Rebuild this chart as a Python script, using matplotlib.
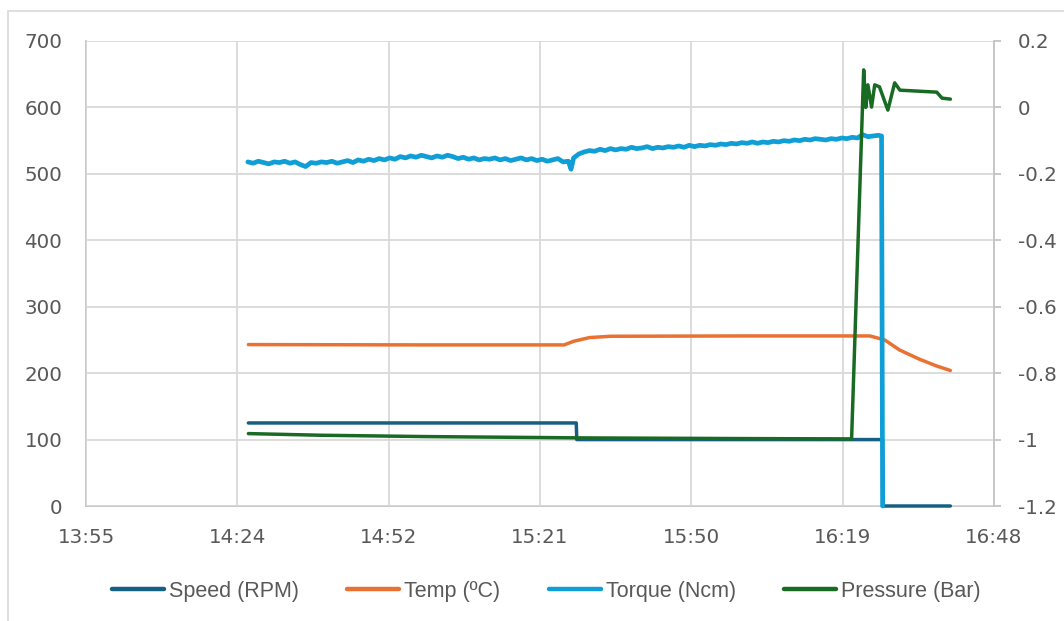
import matplotlib
matplotlib.use("Agg")
import matplotlib.pyplot as plt
from matplotlib.patches import Rectangle

# ---------------- data (time in minutes since midnight) ----------------
x_ticks = [835.2, 864.0, 892.8, 921.6, 950.4, 979.2, 1008.0]
x_tick_labels = ["13:55", "14:24", "14:52", "15:21", "15:50", "16:19", "16:48"]
left_ticks = [0, 100, 200, 300, 400, 500, 600, 700]
right_ticks = [-1.2, -1.0, -0.8, -0.6, -0.4, -0.2, 0.0, 0.2]
right_tick_labels = ["-1.2", "-1", "-0.8", "-0.6", "-0.4", "-0.2", "0", "0.2"]

speed_t = [866.1, 928.5, 928.6, 986.8, 986.9, 999.7]
speed_v = [125, 125, 100, 100, 0, 0]

temp_t = [866.1, 900.0, 926.2, 928.0, 931.0, 935.0, 960.0, 984.4, 987.2, 990.0, 993.8, 997.0, 999.7]
temp_v = [243, 242.5, 242.5, 248, 253.5, 255.5, 256, 256, 250, 235, 221, 211, 204]

torque_t = [866, 867, 868, 869, 870, 871, 872, 873, 874, 875, 876, 877, 878, 879, 880,
            881, 882, 883, 884, 885, 886, 887, 888, 889, 890, 891, 892, 893, 894, 895,
            896, 897, 898, 899, 900, 901, 902, 903, 904, 905, 906, 907, 908, 909, 910,
            911, 912, 913, 914, 915, 916, 917, 918, 919, 920, 921, 922, 923, 924, 925,
            926, 927, 927.5, 928, 929, 930, 931, 932, 933, 934, 935, 936, 937, 938, 939,
            940, 941, 942, 943, 944, 945, 946, 947, 948, 949, 950, 951, 952, 953, 954,
            955, 956, 957, 958, 959, 960, 961, 962, 963, 964, 965, 966, 967, 968, 969,
            970, 971, 972, 973, 974, 975, 976, 977, 978, 979, 980, 981, 982, 983, 984,
            985, 986, 986.6, 986.8]
torque_v = [518, 516, 519, 517, 515, 518, 517, 519, 516, 518, 514, 511, 517, 516, 518,
            517, 519, 516, 518, 520, 517, 521, 519, 522, 520, 523, 521, 524, 522, 526,
            524, 527, 525, 528, 526, 524, 527, 525, 528, 526, 523, 525, 522, 524, 521,
            523, 522, 524, 521, 523, 520, 522, 524, 521, 523, 520, 522, 519, 521, 523,
            518, 519, 507, 524, 530, 533, 535, 534, 537, 535, 538, 536, 538, 537, 540,
            538, 539, 541, 538, 540, 539, 541, 540, 542, 540, 543, 541, 543, 542, 544,
            543, 545, 544, 546, 545, 547, 546, 548, 546, 548, 547, 549, 548, 550, 549,
            551, 550, 552, 551, 553, 552, 551, 553, 552, 554, 553, 555, 554, 559, 556,
            557, 558, 557, 0]

pressure_t = [866.1, 880.0, 900.0, 930.0, 960.0, 980.9, 983.2, 983.6, 984.0, 984.7,
              985.3, 986.2, 987.8, 989.1, 990.1, 997.1, 998.1, 999.7]
pressure_v = [-0.982, -0.987, -0.991, -0.995, -0.997, -0.998, 0.113, 0.0, 0.068, 0.001,
              0.068, 0.062, -0.008, 0.074, 0.052, 0.046, 0.028, 0.025]

# ---------------- styling ----------------
c_speed, c_temp, c_torque, c_press = "#156082", "#E97132", "#0F9ED5", "#196B24"
txt = "#595959"
grid_c = "#d9d9d9"
axis_c = "#c4c4c4"
plt.rcParams["font.family"] = ["DejaVu Sans"]
fs = 14.3
lw = 2.5

fig = plt.figure(figsize=(10.64, 6.21), dpi=100)
ax = fig.add_axes([86 / 1064, 115 / 621, 908 / 1064, 465 / 621])
ax2 = ax.twinx()

kw = dict(solid_joinstyle="round", solid_capstyle="round", clip_on=False)
l1, = ax.plot(speed_t, speed_v, color=c_speed, lw=lw, label="Speed (RPM)", **kw)
l2, = ax.plot(temp_t, temp_v, color=c_temp, lw=lw, label="Temp (ºC)", **kw)
l3, = ax.plot(torque_t, torque_v, color=c_torque, lw=3.4, label="Torque (Ncm)", **kw)
l4, = ax2.plot(pressure_t, pressure_v, color=c_press, lw=lw, label="Pressure (Bar)", **kw)

ax.set_xlim(x_ticks[0], x_ticks[-1])
ax.set_ylim(0, 700)
ax2.set_ylim(-1.2, 0.2)

ax.set_xticks(x_ticks)
ax.set_xticklabels(x_tick_labels)
ax.set_yticks(left_ticks)
ax.set_yticklabels([str(v) for v in left_ticks])
ax2.set_yticks(right_ticks)
ax2.set_yticklabels(right_tick_labels)

ax.grid(True, color=grid_c, lw=1.3)
ax.set_axisbelow(True)

for a in (ax, ax2):
    for s in a.spines.values():
        s.set_color(axis_c)
        s.set_linewidth(1.3)
        s.set_zorder(0.5)
    a.spines["top"].set_visible(False)
ax.spines["right"].set_visible(False)
ax2.spines["bottom"].set_visible(False)
ax2.spines["left"].set_visible(False)
ax.tick_params(axis="x", length=0, pad=16, labelsize=fs, labelcolor=txt)
ax.tick_params(axis="y", length=0, pad=17, labelsize=fs, labelcolor=txt)
ax2.tick_params(axis="y", length=5, width=1.3, color=axis_c, pad=12, labelsize=fs, labelcolor=txt)

# outer chart border
fig.patches.append(Rectangle((8 / 1064, -0.1), 1.2, (621 - 11) / 621 + 0.1,
                             transform=fig.transFigure, fill=False, ec="#d9d9d9", lw=1.2))

leg = fig.legend(handles=[l1, l2, l3, l4], loc="center", bbox_to_anchor=(0.5135, (621 - 591) / 621),
                 ncol=4, frameon=False, prop={"family": "Liberation Sans", "size": 15.5},
                 labelcolor=txt, handlelength=2.42, handletextpad=0.23, columnspacing=2.25)
for h in leg.get_lines():
    h.set_linewidth(3.2)

fig.savefig("out.png", dpi=100)
